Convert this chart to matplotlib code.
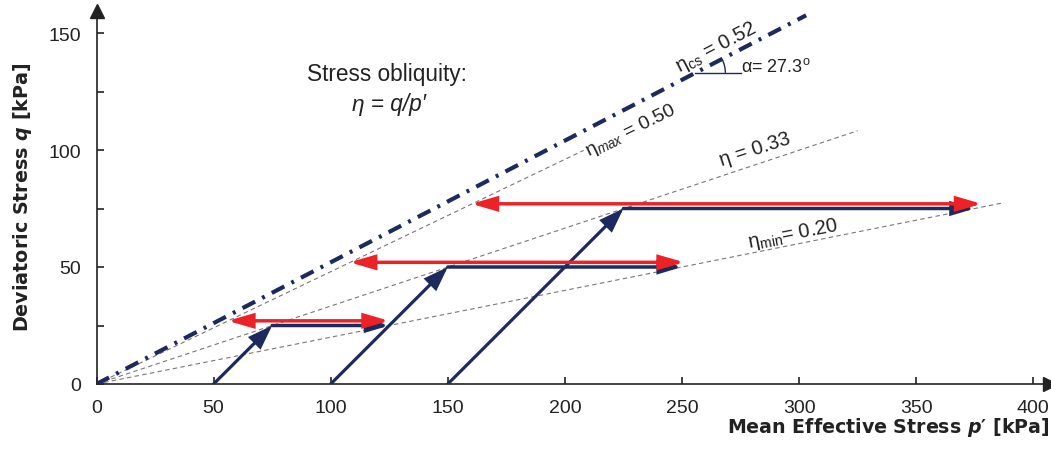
import matplotlib
matplotlib.use("Agg")
import matplotlib.pyplot as plt
from matplotlib.patches import Arc, FancyArrowPatch
import numpy as np

plt.rcParams['font.family'] = ['Liberation Sans', 'DejaVu Sans']
plt.rcParams['mathtext.fontset'] = 'custom'
plt.rcParams['mathtext.rm'] = 'Liberation Sans'
plt.rcParams['mathtext.it'] = 'Liberation Sans:italic'
plt.rcParams['mathtext.bf'] = 'DejaVu Sans:bold'
plt.rcParams['mathtext.bfit'] = 'DejaVu Sans:italic:bold'

# ---- data ----
start_p = [50, 100, 150]          # initial mean effective stress (q = 0)
peak_q = [25, 50, 75]             # deviatoric stress reached
peak_p = [75, 150, 225]           # p' at end of shearing
end_p = [125, 250, 375]           # p' after cyclic unloading (blue arrows)
red_q = [27, 52, 77]              # red double arrows level
red_left = [56, 108, 160]
red_right = [125, 251, 378]

eta_cs = 0.52
eta_cs_end = 303
eta_lines = [0.48, 0.333, 0.20]   # drawn slopes of eta_max, eta, eta_min
eta_ends = [208, 325, 387]
alpha_deg = 27.3

xticks = [0, 50, 100, 150, 200, 250, 300, 350, 400]
yticks = [0, 50, 100, 150]

navy = '#1d2a5e'
red = '#ec2227'
gray = '#777777'
ink = '#222222'

W, H = 1051, 456
fig = plt.figure(figsize=(W / 100, H / 100), dpi=100)
x0, x1 = 96.5, 1050
y0, y1 = 385, 12
sx, sy = 2.342, 2.34
ax = fig.add_axes([x0 / W, (H - y0) / H, (x1 - x0) / W, (y0 - y1) / H])
ax.set_xlim(0, (x1 - x0) / sx)
ax.set_ylim(0, (y0 - y1) / sy)

for s in ['top', 'right']:
    ax.spines[s].set_visible(False)
for s in ['left', 'bottom']:
    ax.spines[s].set_linewidth(1.2)
    ax.spines[s].set_color(ink)
ax.plot(1, 0, '>', color=ink, ms=10, transform=ax.transAxes, clip_on=False)
ax.plot(0, 1, '^', color=ink, ms=10, transform=ax.transAxes, clip_on=False)

ax.set_xticks(xticks)
ax.set_yticks(yticks)
ax.set_yticks([25, 75, 125], minor=True)
ax.tick_params(axis='both', which='both', direction='in', length=5, width=1.2,
               color=ink, labelsize=14, labelcolor=ink)
ax.tick_params(axis='x', pad=10.5)
ax.tick_params(axis='y', pad=11)

# eta lines
ax.plot([0, eta_cs_end], [0, eta_cs * eta_cs_end], color=navy, lw=3.0,
        dashes=(3.4, 1.9, 0.7, 1.9), zorder=3)
for e, pe in zip(eta_lines, eta_ends):
    ax.plot([0, pe], [0, e * pe], color=gray, lw=0.8, dashes=(4, 3), zorder=2)

# stress paths
def arrow(a, b, color, style, lw, ms, z):
    ax.add_patch(FancyArrowPatch(a, b, arrowstyle=style, mutation_scale=ms,
                                 color=color, lw=lw, shrinkA=0, shrinkB=0,
                                 zorder=z, joinstyle='miter'))

for p0, pp, q, pe in zip(start_p, peak_p, peak_q, end_p):
    arrow((p0, 0), (pp, q), navy, '-|>,head_length=0.85,head_width=0.3', 2.3, 16, 5)
    arrow((pp, q), (pe, q), navy, '-|>,head_length=0.8,head_width=0.24', 2.5, 16, 5)
for q, l, r in zip(red_q, red_left, red_right):
    arrow((r, q), (l, q), red, '<|-|>,head_length=0.9,head_width=0.26', 2.5, 16, 6)

# angle marker
pa = 255.7
qa = eta_cs * pa
ax.plot([pa, 275], [qa, qa], color=navy, lw=1.0)
ax.add_patch(Arc((pa, qa), 2 * 30 / sx, 2 * 30 / sy, theta1=0,
                 theta2=alpha_deg, color=navy, lw=1.0))
ax.text(275, 136, 'α= 27.3$^{\\mathrm{o}}$', fontsize=13, color=ink,
        va='center', ha='left')

# labels on lines
ax.text(264.5, 144, 'η$_{\\mathrm{cs}}$ = 0.52', fontsize=14.5, rotation=27.5,
        ha='center', va='center', color=ink)
ax.text(228, 108.5, 'η$_{max}$ = 0.50', fontsize=14, rotation=26,
        ha='center', va='center', color=ink)
ax.text(281, 100.4, 'η = 0.33', fontsize=14.5, rotation=18,
        ha='center', va='center', color=ink)
ax.text(297.5, 64.5, 'η$_{\\mathrm{min}}$= 0.20', fontsize=14.5, rotation=11,
        ha='center', va='center', color=ink)

ax.text(124.2, 132.5, 'Stress obliquity:', fontsize=16.3, ha='center', va='center',
        color=ink)
ax.text(125, 120, 'η = q/p′', fontsize=16.3, style='italic', ha='center',
        va='center', color=ink)

fig.text(1049 / W, 1 - 433 / H, "Mean Effective Stress $\\mathbfit{p}$′ [kPa]",
         fontsize=13.7, fontweight='bold', family='DejaVu Sans', ha='right',
         va='baseline', color=ink)
fig.text(22.5 / W, 1 - 197.5 / H, "Deviatoric Stress $\\mathbfit{q}$ [kPa]",
         fontsize=13.8, fontweight='bold', family='DejaVu Sans', ha='center',
         va='center', rotation=90, color=ink)

fig.savefig('out.png', dpi=100)
